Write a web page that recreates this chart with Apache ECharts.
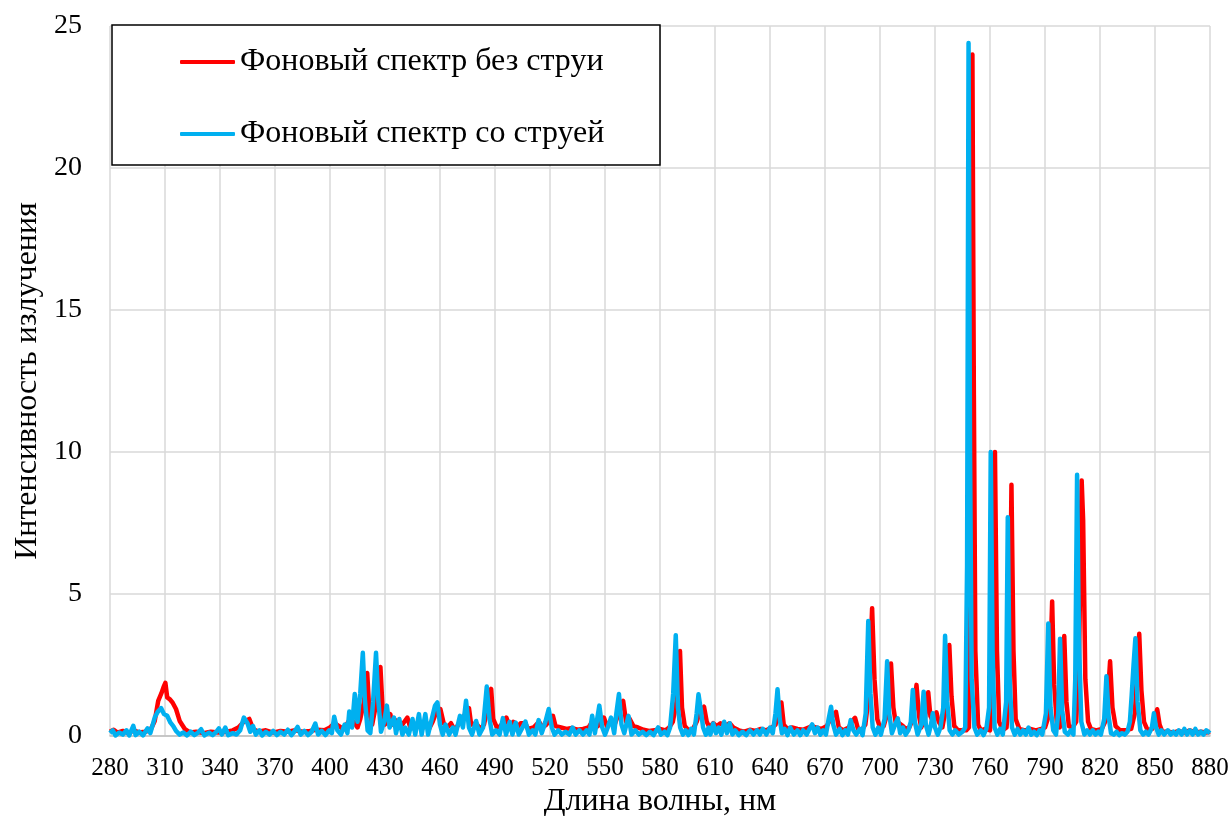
<!DOCTYPE html>
<html>
<head>
<meta charset="utf-8">
<script src="https://cdn.jsdelivr.net/npm/echarts@6/dist/echarts.min.js"></script>
<style>
  html, body { margin: 0; padding: 0; background: #fff; }
  #main { width: 1232px; height: 816px; }
</style>
</head>
<body>
<div id="main"></div>
<script>
// подписи и названия
var seriesNames = ['Фоновый спектр без струи', 'Фоновый спектр со струей'];
var xTicks = [280, 880, 30];   // min, max, шаг
var yTicks = [0, 25, 5];

// спектр без струи (красный)
var redWl = [280, 282, 284, 287, 290, 293, 296, 299, 302, 304.4, 306.3, 308, 309.2, 310.2, 311.2, 312.5, 314.1, 316, 318, 320.9, 323.8, 327, 331, 335, 339, 343, 347, 350, 353, 356, 358, 361, 365, 369, 373, 377, 381, 385, 389, 393, 397, 400, 402.5, 404.7, 407, 409, 411, 413, 415, 416.5, 418.5, 420.3, 421.5, 423, 424.5, 426, 427.5, 428.8, 430, 431.5, 432.9, 434, 436, 438, 440, 442.2, 444, 446, 448.5, 450, 452, 454, 456, 458, 460.2, 462, 464, 466, 468, 471, 473, 475.8, 477, 479.7, 482, 484, 486, 487.9, 489, 491, 493, 496.2, 498, 500, 502, 504, 506.5, 508, 511, 514, 516, 518, 521.6, 523, 526, 529, 532, 535, 538, 541, 543, 545, 547, 549.4, 551, 553.5, 555, 557.5, 559.9, 561.5, 563.5, 565.5, 568, 571, 574, 577, 580, 583, 585, 587, 589, 590.9, 592, 593.5, 595.5, 598, 600, 602, 604, 605.5, 607, 609, 611, 613, 615, 618, 620, 623, 626, 629, 632, 635, 638, 641, 643, 644.5, 646.2, 647.5, 649.5, 652, 655, 658, 661, 663, 665, 668, 671, 673, 676, 677.5, 680, 683, 684.5, 686.4, 688, 690, 692, 694, 695.7, 697, 698.5, 700, 702, 704, 706, 707.3, 708.5, 710.5, 712.5, 714, 716, 718, 719.9, 721.3, 722.5, 724.5, 726.3, 727.5, 729, 730.8, 732, 734, 736, 737.8, 739, 740.5, 742.5, 745, 747, 748.5, 749.5, 750.4, 751.2, 752, 753.5, 755, 757.5, 760, 761.5, 762.7, 763.8, 765, 767, 769, 770.5, 771.7, 772.8, 774, 776, 779, 782, 785, 788, 790, 792, 793.9, 795, 796.5, 798, 799.2, 800.5, 801.7, 803, 805, 807, 808.5, 810, 810.8, 812, 813.5, 815, 818, 821, 823.5, 825.5, 826.8, 828.5, 831, 834, 837, 839, 841.4, 842.6, 844, 846, 848.5, 850, 851.2, 852.5, 854, 857, 860, 863, 866, 869, 872, 875, 878, 880];
var redVal = [0.15, 0.22, 0.12, 0.18, 0.1, 0.2, 0.12, 0.15, 0.2, 0.53, 1.24, 1.5, 1.72, 1.87, 1.36, 1.3, 1.18, 0.95, 0.53, 0.24, 0.12, 0.15, 0.1, 0.15, 0.12, 0.14, 0.2, 0.3, 0.5, 0.6, 0.25, 0.15, 0.2, 0.12, 0.18, 0.15, 0.2, 0.15, 0.18, 0.22, 0.2, 0.3, 0.45, 0.36, 0.25, 0.4, 0.6, 0.5, 0.3, 0.6, 1.2, 2.22, 0.8, 0.4, 0.9, 1.6, 2.43, 0.8, 0.4, 0.6, 0.77, 0.4, 0.55, 0.3, 0.45, 0.65, 0.25, 0.35, 0.45, 0.2, 0.55, 0.25, 0.5, 0.85, 0.95, 0.45, 0.3, 0.45, 0.2, 0.5, 0.7, 0.98, 0.4, 0.45, 0.25, 0.4, 1.0, 1.66, 0.6, 0.3, 0.35, 0.65, 0.3, 0.5, 0.3, 0.45, 0.45, 0.25, 0.3, 0.5, 0.3, 0.4, 0.71, 0.35, 0.3, 0.25, 0.28, 0.22, 0.25, 0.3, 0.5, 0.3, 0.4, 0.65, 0.35, 0.55, 0.35, 0.8, 1.24, 0.5, 0.6, 0.35, 0.3, 0.22, 0.18, 0.2, 0.25, 0.2, 0.3, 0.5, 1.2, 2.99, 1.0, 0.35, 0.2, 0.25, 0.5, 0.9, 1.03, 0.5, 0.3, 0.45, 0.35, 0.45, 0.35, 0.45, 0.3, 0.2, 0.15, 0.22, 0.18, 0.25, 0.2, 0.3, 0.4, 0.8, 1.18, 0.4, 0.25, 0.3, 0.25, 0.22, 0.3, 0.35, 0.3, 0.25, 0.35, 0.6, 0.85, 0.3, 0.2, 0.3, 0.5, 0.64, 0.25, 0.2, 0.4, 1.5, 4.5, 2.0, 0.6, 0.3, 0.35, 0.8, 2.55, 1.0, 0.5, 0.45, 0.35, 0.25, 0.3, 0.6, 1.8, 0.7, 0.3, 0.6, 1.54, 0.7, 0.5, 0.83, 0.5, 0.3, 1.0, 3.2, 1.4, 0.35, 0.2, 0.2, 0.2, 0.3, 8.0, 24.0, 12.0, 3.0, 0.4, 0.2, 0.25, 0.2, 1.5, 10.0, 3.0, 0.5, 0.2, 0.3, 1.5, 8.85, 3.0, 0.6, 0.25, 0.2, 0.25, 0.2, 0.25, 0.3, 0.7, 4.74, 1.8, 0.4, 0.3, 1.0, 3.52, 1.2, 0.35, 0.3, 0.5, 2.5, 9.0, 7.6, 2.0, 0.5, 0.25, 0.2, 0.25, 0.6, 2.63, 1.0, 0.35, 0.2, 0.2, 0.25, 0.8, 3.6, 1.6, 0.5, 0.2, 0.25, 0.6, 0.94, 0.4, 0.15, 0.15, 0.12, 0.18, 0.12, 0.2, 0.12, 0.15, 0.12, 0.15];

// спектр со струей (голубой)
var blueWl = [280, 281.5, 283, 285, 287, 289, 290.5, 292.7, 294, 296, 298, 300.5, 302, 304.4, 306, 307.9, 309.5, 311.2, 313, 314.5, 316, 318, 320, 322, 324, 326, 328, 329.7, 331.5, 334, 336, 338, 339.4, 341, 342.9, 344.5, 347, 349, 351, 353, 355, 356.5, 358, 359.5, 361.5, 363, 365, 367, 369, 371, 373, 375, 377, 379, 380.5, 382.3, 384, 386, 388, 390, 392, 393.5, 395.5, 397.5, 399.5, 401, 402.3, 404, 406, 408, 409.5, 410.5, 412, 413.5, 415, 416.5, 417.9, 419, 420.5, 422, 423.5, 425.1, 426.3, 427.8, 429.5, 431, 432.5, 434.9, 436, 437.8, 439.5, 441, 443, 445, 446.5, 448.5, 450, 452, 453.5, 455.5, 457.3, 458.6, 460, 461.5, 463, 465, 467, 468.5, 470.9, 472.5, 474.2, 475.8, 477.5, 479.7, 481.5, 483.5, 485.5, 487, 488.5, 490.5, 492.5, 494.3, 496, 498, 499.5, 501.3, 503, 505, 506.6, 508.5, 510.5, 512, 513.8, 515.5, 517.5, 519.3, 521, 522.5, 524.5, 526.5, 528.5, 530.5, 532.3, 534, 536, 538, 540, 541.5, 543, 544.5, 546.9, 548.5, 550, 551.5, 553.3, 555, 556.2, 557.6, 559, 560.5, 562.8, 564.5, 566.5, 568.5, 570.5, 572.5, 574.5, 576.5, 579, 580.5, 582.5, 584, 585.5, 587.2, 588.6, 589.8, 591, 592.5, 594, 595.5, 597, 598.5, 600, 601, 602.3, 603.5, 605, 606.5, 607.5, 609, 610.5, 612, 613.5, 615, 616.5, 618, 619.5, 621, 623, 625, 627, 629, 631, 633, 634.5, 636, 638, 640, 641.5, 643, 644.1, 645.3, 646.5, 648, 649.5, 651, 653, 655, 656.5, 658, 660, 661.5, 663, 664.5, 666, 667.5, 669, 670.5, 672, 673.3, 674.5, 676, 678, 679.5, 681, 682.5, 684, 685.5, 687, 689, 690.5, 692.2, 693.6, 694.8, 696, 697.5, 699, 700.5, 702.5, 703.9, 705, 706.5, 708.2, 709.7, 711, 712.5, 714, 715.5, 716.8, 717.9, 719, 720.5, 722.5, 723.8, 725, 726.5, 727.8, 728.8, 730, 731.5, 733, 734.5, 735.5, 736.7, 738, 739.5, 741, 743, 745, 746.5, 747.5, 748.3, 749.1, 750, 751.5, 753, 755, 756.5, 758, 759.5, 760.4, 761.4, 762.5, 764, 765.5, 767, 768.8, 769.7, 770.7, 772, 773.5, 775, 776.5, 778, 779.5, 781, 782.5, 784, 785.5, 787, 788.5, 790.5, 791.8, 793, 794.5, 796, 797.2, 798.2, 799.4, 800.8, 802.5, 804, 805.5, 806.5, 807.5, 808.5, 809.8, 811.5, 813, 814.5, 816, 817.5, 819, 820.5, 822.3, 823.5, 824.7, 826, 827.5, 829, 830.5, 832, 833.5, 835, 836.3, 837.3, 838.3, 839.3, 840.5, 842, 843.5, 845, 846.5, 848.3, 849.4, 850.6, 852, 853.5, 855, 857, 858.5, 860, 861.5, 863, 864.5, 866, 867.5, 869, 870.5, 872, 873.5, 875, 876.5, 878, 880];
var blueVal = [0.1, 0.2, 0.02, 0.12, 0.05, 0.2, 0.02, 0.36, 0.03, 0.15, 0.02, 0.27, 0.1, 0.65, 0.85, 0.98, 0.77, 0.71, 0.47, 0.35, 0.18, 0.05, 0.12, 0.02, 0.15, 0.03, 0.12, 0.24, 0.02, 0.12, 0.03, 0.15, 0.27, 0.05, 0.3, 0.03, 0.1, 0.05, 0.2, 0.65, 0.45, 0.15, 0.35, 0.05, 0.2, 0.02, 0.15, 0.05, 0.18, 0.03, 0.15, 0.05, 0.22, 0.03, 0.15, 0.32, 0.05, 0.18, 0.03, 0.15, 0.44, 0.05, 0.18, 0.03, 0.2, 0.1, 0.68, 0.2, 0.05, 0.4, 0.1, 0.86, 0.3, 1.48, 0.5, 1.5, 2.93, 1.3, 0.2, 0.1, 1.2, 2.93, 1.3, 0.15, 0.5, 1.07, 0.3, 0.65, 0.1, 0.6, 0.05, 0.3, 0.05, 0.6, 0.05, 0.77, 0.05, 0.77, 0.05, 0.6, 1.07, 1.18, 0.4, 0.05, 0.4, 0.05, 0.3, 0.05, 0.71, 0.3, 1.24, 0.3, 0.05, 0.53, 0.05, 0.3, 1.74, 0.6, 0.05, 0.2, 0.05, 0.63, 0.05, 0.5, 0.05, 0.47, 0.05, 0.3, 0.51, 0.05, 0.2, 0.05, 0.56, 0.1, 0.5, 0.95, 0.3, 0.05, 0.2, 0.05, 0.15, 0.05, 0.3, 0.05, 0.2, 0.05, 0.2, 0.05, 0.71, 0.1, 1.07, 0.3, 0.05, 0.3, 0.65, 0.1, 0.8, 1.48, 0.4, 0.1, 0.71, 0.05, 0.2, 0.05, 0.15, 0.03, 0.15, 0.03, 0.3, 0.05, 0.15, 0.03, 0.3, 1.5, 3.55, 1.0, 0.3, 0.05, 0.2, 0.03, 0.25, 0.05, 0.8, 1.47, 0.9, 0.3, 0.05, 0.3, 0.05, 0.44, 0.1, 0.3, 0.05, 0.5, 0.1, 0.45, 0.05, 0.2, 0.03, 0.15, 0.03, 0.2, 0.05, 0.2, 0.05, 0.25, 0.05, 0.3, 0.1, 0.8, 1.65, 0.6, 0.1, 0.25, 0.03, 0.3, 0.05, 0.2, 0.03, 0.2, 0.05, 0.25, 0.41, 0.1, 0.3, 0.05, 0.2, 0.05, 0.6, 1.03, 0.4, 0.05, 0.25, 0.03, 0.2, 0.05, 0.56, 0.2, 0.05, 0.25, 0.03, 0.8, 4.05, 1.5, 0.3, 0.05, 0.3, 0.05, 0.6, 2.63, 0.8, 0.1, 0.4, 0.62, 0.1, 0.3, 0.05, 0.2, 0.5, 1.62, 0.5, 0.05, 0.4, 1.56, 0.4, 0.05, 0.4, 0.8, 0.3, 0.05, 0.3, 1.0, 3.53, 1.2, 0.2, 0.05, 0.2, 0.05, 0.15, 0.3, 6.0, 24.4, 10.0, 2.0, 0.3, 0.05, 0.2, 0.03, 0.25, 1.0, 10.0, 3.0, 0.3, 0.05, 0.25, 0.05, 1.2, 7.7, 2.0, 0.3, 0.05, 0.25, 0.05, 0.2, 0.05, 0.3, 0.05, 0.15, 0.03, 0.2, 0.05, 0.8, 3.96, 1.0, 0.2, 0.05, 0.8, 3.42, 0.9, 0.15, 0.05, 0.2, 0.05, 2.0, 9.2, 3.5, 0.5, 0.05, 0.2, 0.05, 0.2, 0.05, 0.15, 0.05, 0.6, 2.1, 0.7, 0.1, 0.05, 0.15, 0.03, 0.1, 0.05, 0.15, 0.5, 1.45, 2.5, 3.44, 1.2, 0.2, 0.05, 0.15, 0.05, 0.3, 0.8, 0.3, 0.05, 0.2, 0.05, 0.2, 0.05, 0.15, 0.05, 0.2, 0.05, 0.25, 0.05, 0.2, 0.05, 0.25, 0.05, 0.15, 0.05, 0.2, 0.1];

function zip(xs, ys) {
  var out = [];
  for (var i = 0; i < xs.length; i++) out.push([xs[i], ys[i]]);
  return out;
}

var font = '"Liberation Serif", "Times New Roman", serif';
var myChart = echarts.init(document.getElementById('main'));

var option = {
  animation: false,
  backgroundColor: '#fff',
  textStyle: { fontFamily: font, color: '#000' },
  grid: { left: 110, right: 22, top: 26, bottom: 80, outerBoundsMode: 'none', containLabel: false },
  // рамка легенды
  graphic: [{
    type: 'rect',
    shape: { x: 112, y: 25, width: 548, height: 140 },
    style: { fill: '#fff', stroke: '#000', lineWidth: 1.5 },
    z: 50
  }],
  legend: {
    orient: 'vertical',
    left: 175,
    top: 41,
    itemGap: 40,
    itemWidth: 55,
    itemHeight: 4,
    icon: 'roundRect',
    z: 60,
    textStyle: { fontFamily: font, fontSize: 32, color: '#000' },
    data: seriesNames
  },
  xAxis: {
    type: 'value',
    min: xTicks[0],
    max: xTicks[1],
    interval: xTicks[2],
    name: 'Длина волны, нм',
    nameLocation: 'middle',
    nameGap: 48,
    nameTextStyle: { fontFamily: font, fontSize: 32, color: '#000' },
    axisLine: { show: true, lineStyle: { color: '#bfbfbf', width: 1.5 } },
    axisTick: { show: false },
    axisLabel: { fontFamily: font, fontSize: 25, color: '#000', margin: 20 },
    splitLine: { show: true, lineStyle: { color: '#d9d9d9', width: 1.5 } }
  },
  yAxis: {
    type: 'value',
    min: yTicks[0],
    max: yTicks[1],
    interval: yTicks[2],
    name: 'Интенсивность излучения',
    nameLocation: 'middle',
    nameGap: 66,
    nameTextStyle: { fontFamily: font, fontSize: 32, color: '#000' },
    axisLine: { show: false },
    axisTick: { show: false },
    axisLabel: { fontFamily: font, fontSize: 28, color: '#000', margin: 28 },
    splitLine: { show: true, lineStyle: { color: '#d9d9d9', width: 1.5 } }
  },
  series: [
    {
      name: seriesNames[0],
      type: 'line',
      symbol: 'none',
      color: '#ff0000',
      lineStyle: { width: 4.5, color: '#ff0000', join: 'round' },
      data: zip(redWl, redVal)
    },
    {
      name: seriesNames[1],
      type: 'line',
      symbol: 'none',
      color: '#00b0f0',
      lineStyle: { width: 4.5, color: '#00b0f0', join: 'round' },
      data: zip(blueWl, blueVal)
    }
  ]
};
myChart.setOption(option);
</script>
</body>
</html>
